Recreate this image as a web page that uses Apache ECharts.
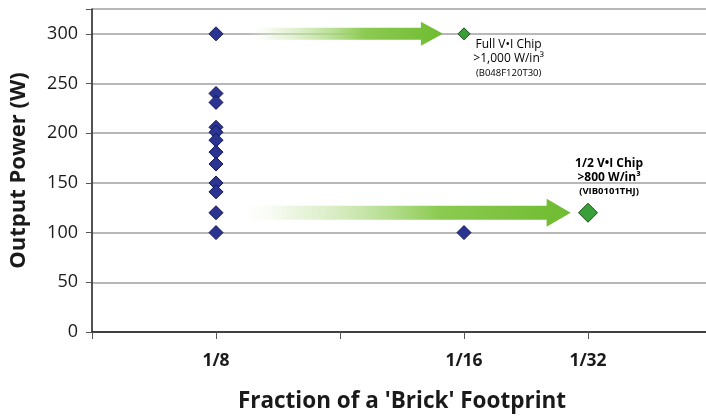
<!DOCTYPE html>
<html>
<head>
<meta charset="utf-8">
<script src="https://cdn.jsdelivr.net/npm/echarts@6/dist/echarts.min.js"></script>
<style>html,body{margin:0;padding:0;background:#fff}#c{width:706px;height:417px}</style>
</head>
<body>
<div id="c"></div>
<script>
// ---- data ----
const xTickLabels = {1: '1/8', 3: '1/16', 4: '1/32'};
const eighthX = 1;
const eighthPower = [300, 240, 231, 206, 201, 193, 181, 169, 150, 141, 120, 100];
const sixteenthBlue = [[3, 100]];
const fullChip = [[3, 300]];
const halfChip = [[4, 120]];
// arrows: [startX, tipX, y]
const arrows = [[1.25, 2.83, 300], [1.18, 3.86, 120]];
// annotation anchors: [x, y]
const annoPos = [[3.36, 300], [4.17, 120]];
const annoText = [
  ['Full V•I Chip', '>1,000 W/in³', '(B048F120T30)'],
  ['1/2 V•I Chip', '>800 W/in³', '(VIB0101THJ)']
];

const FONT = '"Open Sans", "DejaVu Sans", sans-serif';
const chart = echarts.init(document.getElementById('c'), null, {renderer: 'canvas'});

const arrowSizes = [{bh: 6, hh: 12, hl: 22}, {bh: 7, hh: 14, hl: 24}];

chart.setOption({
  backgroundColor: '#fff',
  animation: false,
  grid: {left: 92, top: 9, width: 620, height: 323, containLabel: false, outerBoundsMode: 'none'},
  xAxis: {
    type: 'value', min: 0, max: 5, interval: 1,
    name: "Fraction of a 'Brick' Footprint", nameLocation: 'middle', nameGap: 58,
    nameTextStyle: {fontFamily: FONT, fontSize: 22.5, fontWeight: 'bold', color: '#1a1a1a'},
    axisLine: {lineStyle: {color: '#1a1a1a', width: 1.5}},
    axisTick: {length: 7, lineStyle: {color: '#555', width: 1}},
    splitLine: {show: false},
    axisLabel: {formatter: v => xTickLabels[v] || '', margin: 20,
      fontFamily: FONT, fontSize: 17.5, fontWeight: 'bold', color: '#1a1a1a'}
  },
  yAxis: {
    type: 'value', min: 0, max: 325, interval: 50,
    name: 'Output Power (W)', nameLocation: 'middle', nameGap: 62,
    nameTextStyle: {fontFamily: FONT, fontSize: 22, fontWeight: 'bold', color: '#1a1a1a'},
    axisLine: {show: true, lineStyle: {color: '#1a1a1a', width: 1.5}},
    axisTick: {show: true, length: 6, lineStyle: {color: '#555', width: 1}},
    splitLine: {show: true, lineStyle: {color: '#a0a0a0', width: 1.5}},
    axisLabel: {formatter: v => (v % 50 === 0 ? String(v) : ''), margin: 14,
      fontFamily: FONT, fontSize: 18, color: '#1a1a1a'}
  },
  series: [
    {
      type: 'custom', z: 2,
      data: arrows,
      renderItem: function (params, api) {
        const s = arrowSizes[params.dataIndex];
        const p0 = api.coord([api.value(0), api.value(2)]);
        const p1 = api.coord([api.value(1), api.value(2)]);
        const y = p0[1];
        const hb = p1[0] - s.hl;
        const pts = [
          [p0[0], y - s.bh], [hb, y - s.bh], [hb, y - s.hh], [p1[0], y],
          [hb, y + s.hh], [hb, y + s.bh], [p0[0], y + s.bh]
        ];
        return {
          type: 'polygon',
          shape: {points: pts},
          style: {
            fill: new echarts.graphic.LinearGradient(0, 0, 1, 0, [
              {offset: 0, color: 'rgba(255,255,255,0)'},
              {offset: 0.15, color: 'rgba(220,238,200,0.5)'},
              {offset: 0.6, color: '#8ccb52'},
              {offset: 1, color: '#6fbb30'}
            ])
          }
        };
      }
    },
    {
      type: 'scatter', z: 3, symbol: 'diamond', symbolSize: 14,
      itemStyle: {color: '#2b3491', borderColor: '#141a55', borderWidth: 1, opacity: 1},
      data: eighthPower.map(v => [eighthX, v]).concat(sixteenthBlue)
    },
    {
      type: 'scatter', z: 3, symbol: 'diamond', symbolSize: 12,
      itemStyle: {color: '#39a039', borderColor: '#1a4a18', borderWidth: 1, opacity: 1},
      data: fullChip
    },
    {
      type: 'scatter', z: 3, symbol: 'diamond', symbolSize: 19,
      itemStyle: {color: '#39a039', borderColor: '#1a4a18', borderWidth: 1, opacity: 1},
      data: halfChip
    },
    {
      type: 'custom', z: 4,
      data: annoPos,
      renderItem: function (params, api) {
        const i = params.dataIndex;
        const p = api.coord([api.value(0), api.value(1)]);
        const t = annoText[i];
        const bold = i === 1;
        return {
          type: 'text',
          x: p[0], y: i === 0 ? p[1] + 4 : p[1] - 14,
          style: {
            text: '{a|' + t[0] + '}\n{a|' + t[1] + '}\n{b|' + t[2] + '}',
            align: 'center', verticalAlign: i === 0 ? 'top' : 'bottom',
            rich: {
              a: {fontFamily: FONT, fontSize: 12, fontWeight: bold ? 'bold' : 'normal', color: '#1a1a1a', lineHeight: 14, align: 'center'},
              b: {fontFamily: FONT, fontSize: 9.5, fontWeight: bold ? 'bold' : 'normal', color: '#1a1a1a', lineHeight: 14, align: 'center'}
            }
          }
        };
      }
    }
  ]
});
</script>
</body>
</html>
